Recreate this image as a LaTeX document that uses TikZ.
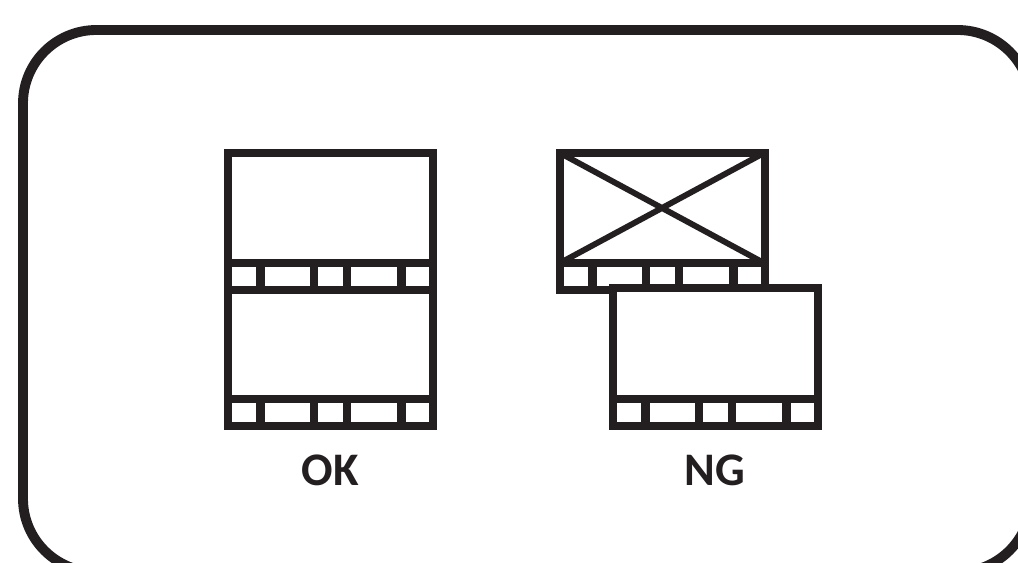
\documentclass[tikz,border=0pt]{standalone}
\usepackage{fontspec}
\newfontfamily\lblfont{Carlito}
\usepackage{tikz}

\definecolor{inkblack}{RGB}{35,31,32}

% film strip: x of left edge, y of top edge, y of bottom edge
\newcommand{\filmframe}[3]{%
  \fill[white] (#1,#2) rectangle ++(205,#3-#2);
  \draw[film] (#1,#2) rectangle ++(205,#3-#2);
  \draw[film] (#1,#3-27) -- ++(205,0);
  \foreach \s in {32.5,86,119,173.5}{\draw[film] (#1+\s,#3-27) -- (#1+\s,#3);}
}

\begin{document}
\begin{tikzpicture}[
    x=0.75pt, y=-0.75pt,
    film/.style  = {draw=inkblack, line width=6.4pt, line join=miter},
    cross/.style = {draw=inkblack, line width=4.4pt},
    lbl/.style   = {font=\lblfont\bfseries\fontsize{35pt}{37pt}\selectfont, text=inkblack, inner sep=0pt},
  ]
  \useasboundingbox (0,0) rectangle (1018,563);
  % outer panel, cut off by the page at right and bottom
  \begin{scope}
    \clip (0,0) rectangle (1018,563);
    \draw[inkblack, line width=7.4pt, rounded corners=55pt] (23,30) rectangle (1031,572);
  \end{scope}
  % good stacking
  \filmframe{228}{153}{290}
  \filmframe{228}{290}{426}
  % bad stacking
  \filmframe{560}{153}{290}
  \coordinate (tl) at (560,153);
  \coordinate (tr) at (764,153);
  \coordinate (bl) at (560,263);
  \coordinate (br) at (764,263);
  \draw[cross] (tl) -- (br);
  \draw[cross] (tr) -- (bl);
  \filmframe{613}{288}{426}
  % labels
  \node[lbl] (ok) at (330,470) {OK};
  \node[lbl] (ng) at (715,470) {NG};
\end{tikzpicture}
\end{document}
